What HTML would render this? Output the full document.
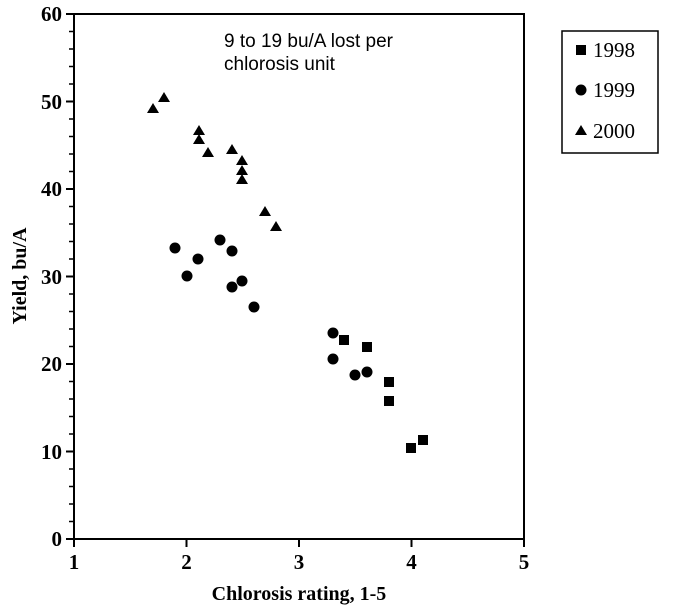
<!DOCTYPE html>
<html><head><style>body{margin:0;background:#fff}</style></head><body>
<svg width="678" height="609" xmlns="http://www.w3.org/2000/svg">
<g stroke="#000" stroke-width="2" fill="none">
<rect x="74" y="14" width="450" height="525"/>
</g>
<g stroke="#000" stroke-width="2">
<line x1="66" y1="539" x2="74" y2="539"/><line x1="66" y1="451.5" x2="74" y2="451.5"/><line x1="66" y1="364" x2="74" y2="364"/><line x1="66" y1="276.5" x2="74" y2="276.5"/><line x1="66" y1="189" x2="74" y2="189"/><line x1="66" y1="101.5" x2="74" y2="101.5"/><line x1="66" y1="14" x2="74" y2="14"/>
<line x1="74" y1="539" x2="74" y2="547"/><line x1="186.5" y1="539" x2="186.5" y2="547"/><line x1="299" y1="539" x2="299" y2="547"/><line x1="411.5" y1="539" x2="411.5" y2="547"/><line x1="524" y1="539" x2="524" y2="547"/>
</g>
<g stroke="#000" stroke-width="1.5" id="minor"></g>
<g font-family="Liberation Serif, serif" font-weight="bold" font-size="21" text-anchor="end">
<text x="62" y="546">0</text><text x="62" y="459">10</text><text x="62" y="371">20</text><text x="62" y="284">30</text><text x="62" y="196">40</text><text x="62" y="109">50</text><text x="62" y="21">60</text>
</g>
<g font-family="Liberation Serif, serif" font-weight="bold" font-size="21" text-anchor="middle">
<text x="74" y="569">1</text><text x="186.5" y="569">2</text><text x="299" y="569">3</text><text x="411.5" y="569">4</text><text x="524" y="569">5</text>
<text x="299" y="600" font-size="20">Chlorosis rating, 1-5</text>
<text transform="translate(26,276) rotate(-90)" font-size="20">Yield, bu/A</text>
</g>
<g font-family="Liberation Sans, sans-serif" font-size="19">
<text x="224" y="47">9 to 19 bu/A lost per</text><text x="224" y="70">chlorosis unit</text>
</g>
<g fill="#000" id="tri"></g>
<g fill="#000">
<circle cx="175" cy="248" r="5.5"/><circle cx="187" cy="276" r="5.5"/><circle cx="198" cy="259" r="5.5"/><circle cx="220" cy="240" r="5.5"/><circle cx="232" cy="251" r="5.5"/><circle cx="232" cy="287" r="5.5"/><circle cx="242" cy="281" r="5.5"/><circle cx="254" cy="307" r="5.5"/><circle cx="333" cy="333" r="5.5"/><circle cx="333" cy="359" r="5.5"/><circle cx="355" cy="375" r="5.5"/><circle cx="367" cy="372" r="5.5"/>
<rect x="339" y="335" width="10" height="10"/><rect x="362" y="342" width="10" height="10"/><rect x="384" y="377" width="10" height="10"/><rect x="384" y="396" width="10" height="10"/><rect x="406" y="443" width="10" height="10"/><rect x="418" y="435" width="10" height="10"/>
<path d="M153 103l6 10h-12zM164 92l6 10h-12zM199 125l6 10h-12zM199 134l6 10h-12zM208 147l6 10h-12zM232 144l6 10h-12zM242 155l6 10h-12zM242 165l6 10h-12zM242 174l6 10h-12zM265 206l6 10h-12zM276 221l6 10h-12z"/>
</g>
<rect x="562" y="31" width="96" height="122" fill="none" stroke="#000" stroke-width="1.5"/>
<g fill="#000"><rect x="576" y="45" width="10" height="10"/><circle cx="581" cy="90" r="5.5"/><path d="M581 125l6 10h-12z"/></g>
<g font-family="Liberation Serif, serif" font-size="21"><text x="593" y="57">1998</text><text x="593" y="97">1999</text><text x="593" y="138">2000</text></g>
<path stroke="#000" stroke-width="1.5" d="M69 521.5h5M69 504h5M69 486.5h5M69 469h5M69 434h5M69 416.5h5M69 399h5M69 381.5h5M69 346.5h5M69 329h5M69 311.5h5M69 294h5M69 259h5M69 241.5h5M69 224h5M69 206.5h5M69 171.5h5M69 154h5M69 136.5h5M69 119h5M69 84h5M69 66.5h5M69 49h5M69 31.5h5"/>
</svg>
</body></html>
